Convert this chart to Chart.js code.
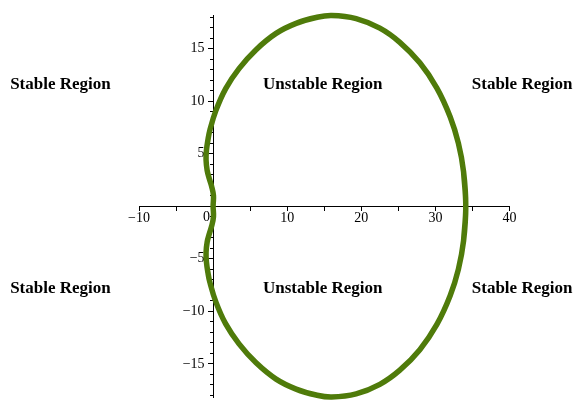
<!DOCTYPE html>
<html>
<head>
<meta charset="utf-8">
<script src="https://cdn.jsdelivr.net/npm/chart.js@4"></script>
<style>
    html, body { margin: 0; padding: 0; background: #fff; }
    #wrap { width: 583px; height: 410px; }
</style>
</head>
<body>
<div id="wrap"><canvas id="stabilityChart" width="583" height="410"></canvas></div>
<script>
// ================= DATA =================

// boundary curve (upper half going left, then lower half back)
const curveX = [
    33.8, 34.1, 33.8, 33.1, 32.0, 30.2, 27.9, 25.2, 22.5, 19.3, 16.0,
    13.9, 11.2, 8.5, 5.8, 3.5, 1.7, 0.37, -0.45, -0.7, -0.9, -0.95, -0.8, -0.5, -0.2,
    0.05, 0.0,
    0.05, -0.2, -0.5, -0.8, -0.95, -0.9, -0.7, -0.45, 0.37, 1.7, 3.5, 5.8, 8.5, 11.2,
    13.9, 16.0, 19.3, 22.5, 25.2, 27.9, 30.2, 32.0, 33.1, 33.8, 34.1, 33.8
];
const curveY = [
    -3.3, 0, 3.3, 6.0, 8.5, 11.25, 13.65, 15.6, 16.95, 17.86, 18.15,
    17.96, 17.4, 16.45, 14.9, 13.1, 11.2, 9.1, 7.2, 6.3, 5.3, 4.4, 3.4, 2.6, 1.9,
    1.0, 0,
    -1.0, -1.9, -2.6, -3.4, -4.4, -5.3, -6.3, -7.2, -9.1, -11.2, -13.1, -14.9, -16.45, -17.4,
    -17.96, -18.15, -17.86, -16.95, -15.6, -13.65, -11.25, -8.5, -6.0, -3.3, 0, 3.3
];

const xTickLabels = [-10, 10, 20, 30, 40];
const yTickLabels = [-15, -10, -5, 5, 10, 15];

const regionNames = [
    "Stable Region", "Unstable Region", "Stable Region",
    "Stable Region", "Unstable Region", "Stable Region"
];

// ================= HELPERS =================

function fmt(v) {
    return v < 0 ? "\u2212" + Math.abs(v) : String(v);
}

// label anchors in data units
const regionSpots = [
    [-20.6, 11.6], [14.8, 11.6], [41.7, 11.6],
    [-20.6, -7.8], [14.8, -7.8], [41.7, -7.8]
];

const tickFont = "14px 'Liberation Serif'";

const axisLabelPlugin = {
    id: "axisLabels",
    // drawn before the curve so the curve sits on top, like the original
    beforeDatasetsDraw(chart) {
        const { ctx } = chart;
        const x = chart.scales.x;
        const y = chart.scales.y;
        const x0 = x.getPixelForValue(0);
        ctx.save();
        ctx.fillStyle = "#000";
        ctx.font = tickFont;
        ctx.textAlign = "right";
        ctx.textBaseline = "middle";
        yTickLabels.forEach((v) => {
            ctx.fillText(fmt(v), x0 - 8.5, y.getPixelForValue(v));
        });
        ctx.textAlign = "center";
        ctx.fillText("0", x0 - 6.5, y.getPixelForValue(0) + 11);
        ctx.restore();
    },
    afterDraw(chart) {
        const { ctx } = chart;
        const x = chart.scales.x;
        const y = chart.scales.y;
        ctx.save();
        ctx.fillStyle = "#000";
        ctx.textAlign = "center";
        ctx.textBaseline = "middle";
        ctx.font = "bold 17px 'Liberation Serif'";
        regionNames.forEach((name, i) => {
            ctx.fillText(name, x.getPixelForValue(regionSpots[i][0]), y.getPixelForValue(regionSpots[i][1]));
        });
        ctx.restore();
    },
};

// ================= CHART =================

const points = curveX.map((v, i) => ({ x: v, y: curveY[i] }));

new Chart(document.getElementById("stabilityChart"), {
    type: "scatter",
    data: {
        datasets: [
            {
                data: points,
                showLine: true,
                borderColor: "#4F7B0A",
                borderWidth: 5.5,
                borderCapStyle: "round",
                borderJoinStyle: "round",
                tension: 0.4,
                pointRadius: 0,
                fill: false,
                clip: 10,
            },
        ],
    },
    options: {
        responsive: false,
        animation: false,
        layout: { padding: { left: 139, right: 73.5, top: 15, bottom: 12.5 } },
        plugins: { legend: { display: false }, tooltip: { enabled: false } },
        scales: {
            x: {
                type: "linear",
                position: { y: 0 },
                min: -10,
                max: 40,
                border: { display: true, color: "#000", width: 1 },
                grid: { drawOnChartArea: false, drawTicks: true, tickLength: 4, color: "#000" },
                ticks: {
                    stepSize: 5,
                    autoSkip: false,
                    maxRotation: 0,
                    padding: 0,
                    color: "#000",
                    font: { family: "'Liberation Serif'", size: 14 },
                    callback: (v) => (xTickLabels.includes(v) ? fmt(v) : ""),
                },
            },
            y: {
                type: "linear",
                position: { x: 0 },
                min: -18.2,
                max: 18.2,
                border: { display: true, color: "#000", width: 1 },
                grid: { drawOnChartArea: false, drawTicks: true, tickLength: 5, color: "#000" },
                ticks: {
                    stepSize: 5,
                    includeBounds: false,
                    autoSkip: false,
                    maxTicksLimit: 100,
                    callback: () => "",
                },
            },
            yMinor: {
                type: "linear",
                axis: "y",
                position: { x: 0 },
                min: -18.2,
                max: 18.2,
                border: { display: false },
                grid: { drawOnChartArea: false, drawTicks: true, tickLength: 3, color: "#000" },
                ticks: {
                    stepSize: 1,
                    includeBounds: false,
                    autoSkip: false,
                    maxTicksLimit: 100,
                    callback: () => "",
                },
            },
        },
    },
    plugins: [axisLabelPlugin],
});
</script>
</body>
</html>
